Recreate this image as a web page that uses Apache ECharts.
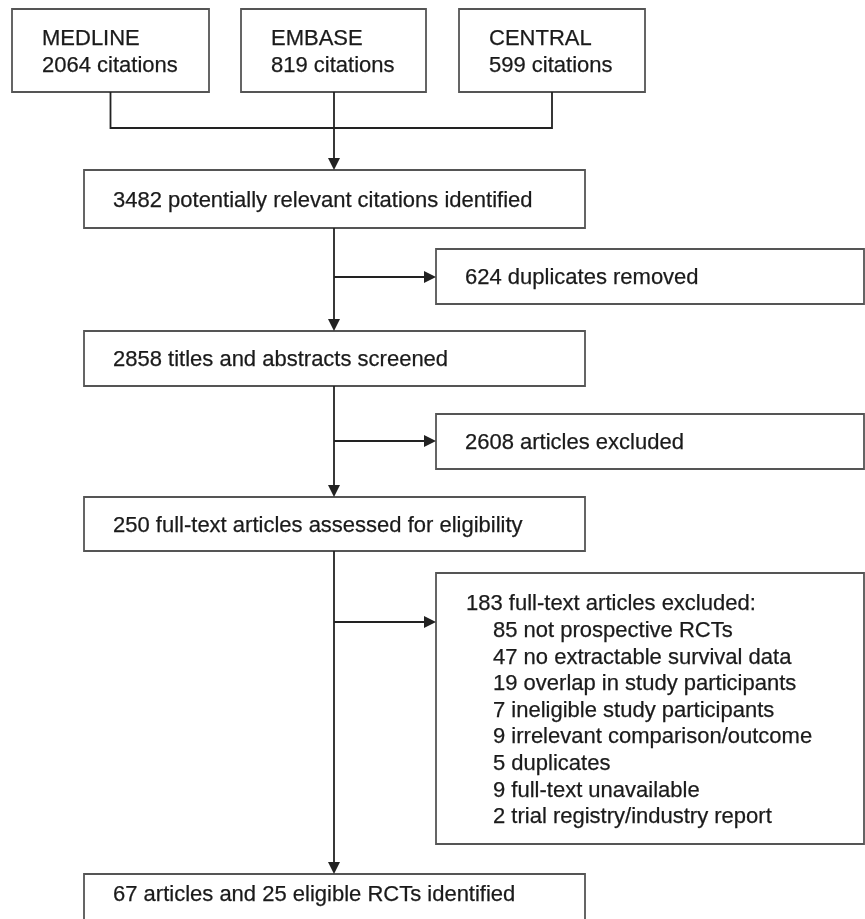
<!DOCTYPE html>
<html>
<head>
<meta charset="utf-8">
<script src="https://cdn.jsdelivr.net/npm/echarts@6/dist/echarts.min.js"></script>
<style>html,body{margin:0;padding:0;background:#fff;}#c{width:865px;height:919px;}</style>
</head>
<body>
<div id="c"></div>
<script>
// ---- data ----
const sources = ['MEDLINE', 'EMBASE', 'CENTRAL'];
const sourceCitations = [2064, 819, 599];
const stageCounts = [3482, 2858, 250];
const stageLabels = ['potentially relevant citations identified', 'titles and abstracts screened', 'full-text articles assessed for eligibility'];
const removedCounts = [624, 2608, 183];
const removedLabels = ['duplicates removed', 'articles excluded', 'full-text articles excluded:'];
const reasonCounts = [85, 47, 19, 7, 9, 5, 9, 2];
const reasonLabels = ['not prospective RCTs', 'no extractable survival data', 'overlap in study participants', 'ineligible study participants', 'irrelevant comparison/outcome', 'duplicates', 'full-text unavailable', 'trial registry/industry report'];
const finalArticles = 67;
const finalRCTs = 25;

// ---- layout (positions/sizes/styles) ----
const FONT = '"Liberation Sans", Arial, sans-serif';
const FS = 22;
const TXT = '#1a1a1a';
const BORDER = '#555';
const LINE = '#222';
const srcX = [12, 241, 459], srcW = [197, 185, 186], srcY = 9, srcH = 83;
const mainX = 84, mainW = 501;
const mainTop = [170, 331, 497, 874], mainH = [58, 55, 54, 60];
const sideX = 436, sideW = 428;
const sideTop = [249, 414, 573], sideH = [55, 55, 271];
const branchY = [277, 441, 622];
const spineX = 334;
const joinY = 128;

const g = [];
function box(x, y, w, h) {
  g.push({type: 'rect', shape: {x: x, y: y, width: w, height: h}, style: {fill: '#fff', stroke: BORDER, lineWidth: 1.8}, z: 1});
}
function text(x, y, s) {
  g.push({type: 'text', x: x, y: y, style: {text: s, fill: TXT, stroke: TXT, lineWidth: 0.25, font: FS + 'px ' + FONT, textVerticalAlign: 'middle', textAlign: 'left'}, z: 3});
}
function line(pts) {
  g.push({type: 'polyline', shape: {points: pts}, style: {stroke: LINE, lineWidth: 1.8, fill: null}, z: 2});
}
function arrowDown(x, yTip) {
  g.push({type: 'polygon', shape: {points: [[x - 6, yTip - 12], [x + 6, yTip - 12], [x, yTip]]}, style: {fill: LINE}, z: 2});
}
function arrowRight(xTip, y) {
  g.push({type: 'polygon', shape: {points: [[xTip - 12, y - 6], [xTip - 12, y + 6], [xTip, y]]}, style: {fill: LINE}, z: 2});
}

// source boxes
sources.forEach(function (s, i) {
  box(srcX[i], srcY, srcW[i], srcH);
  text(srcX[i] + 30, srcY + 29.5, s);
  text(srcX[i] + 30, srcY + 57, sourceCitations[i] + ' citations');
});
const srcCx = srcX.map(function (x, i) { return x + srcW[i] / 2; });
line([[srcCx[0], srcY + srcH], [srcCx[0], joinY], [srcCx[2], joinY], [srcCx[2], srcY + srcH]]);
line([[spineX, srcY + srcH], [spineX, mainTop[0] - 2]]);
arrowDown(spineX, mainTop[0]);

// main stages
stageCounts.forEach(function (c, i) {
  box(mainX, mainTop[i], mainW, mainH[i]);
  text(mainX + 29, mainTop[i] + mainH[i] / 2 + 1.5, c + ' ' + stageLabels[i]);
  line([[spineX, mainTop[i] + mainH[i]], [spineX, mainTop[i + 1] - 2]]);
  arrowDown(spineX, mainTop[i + 1]);
  line([[spineX, branchY[i]], [sideX - 2, branchY[i]]]);
  arrowRight(sideX, branchY[i]);
  box(sideX, sideTop[i], sideW, sideH[i]);
});
text(sideX + 29, sideTop[0] + sideH[0] / 2 + 1.5, removedCounts[0] + ' ' + removedLabels[0]);
text(sideX + 29, sideTop[1] + sideH[1] / 2 + 1.5, removedCounts[1] + ' ' + removedLabels[1]);
text(sideX + 30, sideTop[2] + 31, removedCounts[2] + ' ' + removedLabels[2]);
reasonCounts.forEach(function (c, i) {
  text(sideX + 57, sideTop[2] + 58 + i * 26.6, c + ' ' + reasonLabels[i]);
});

// final box
box(mainX, mainTop[3], mainW, mainH[3]);
text(mainX + 29, mainTop[3] + 21, finalArticles + ' articles and ' + finalRCTs + ' eligible RCTs identified');

const chart = echarts.init(document.getElementById('c'), null, {renderer: 'canvas'});
chart.setOption({animation: false, backgroundColor: '#fff', graphic: {elements: g}});
</script>
</body>
</html>
